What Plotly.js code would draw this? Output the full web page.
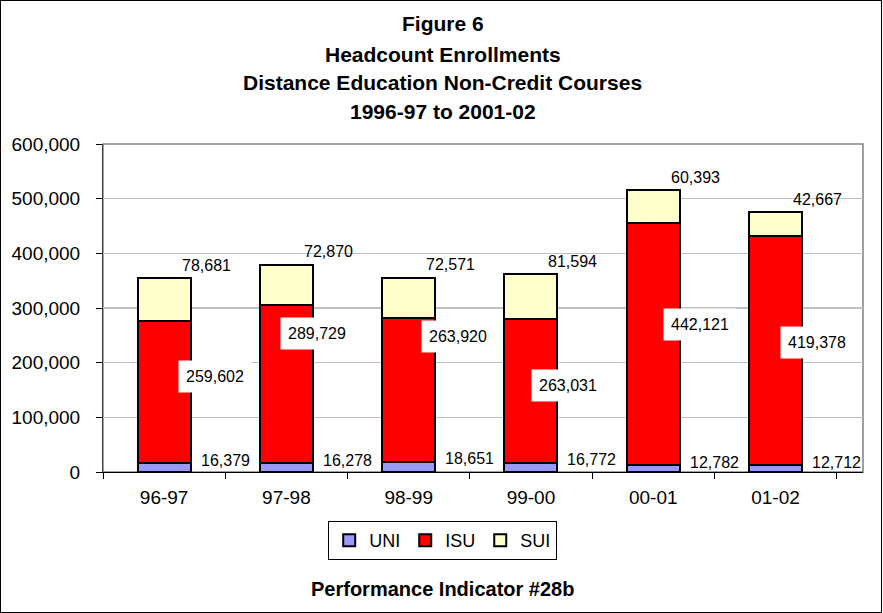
<!DOCTYPE html>
<html>
<head>
<meta charset="utf-8">
<script src="https://cdn.plot.ly/plotly-3.0.1.min.js"></script>
<style>
  body { margin: 0; background: #fff; }
  #graph { width: 880px; height: 611px; border: 1px solid #000; }
</style>
</head>
<body>
<div id="graph"></div>
<script>
// enrollment data
var years = ['96-97', '97-98', '98-99', '99-00', '00-01', '01-02'];
var uni = [16379, 16278, 18651, 16772, 12782, 12712];
var isu = [259602, 289729, 263920, 263031, 442121, 419378];
var sui = [78681, 72870, 72571, 81594, 60393, 42667];

// the ISU labels were dragged around by hand in the original (px tweaks)
var isuShiftX = [51, 31, 49, 37, 47, 41];
var isuShiftY = [16, 50, 53, 5, 20, 8];

var font = 'Arial, "Liberation Sans", sans-serif';

function fmt(v) {
    return v.toLocaleString('en-US');
}

// pixel row (from top of page) -> paper y
function py(p) {
    return (472 - p) / 328;
}

function drawGraph() {
    var edge = { color: '#000', width: 2 };

    var data = [
        { x: years, y: uni, type: 'bar', name: 'UNI', marker: { color: '#9999FF', line: edge } },
        { x: years, y: isu, type: 'bar', name: 'ISU', marker: { color: '#FF0000', line: edge } },
        { x: years, y: sui, type: 'bar', name: 'SUI', marker: { color: '#FFFFCC', line: edge } }
    ];

    var annotations = [];

    // title lines
    var titleLines = ['Figure 6', 'Headcount Enrollments', 'Distance Education Non-Credit Courses', '1996-97 to 2001-02'];
    var titleRows = [23, 54, 82, 112];
    titleLines.forEach(function (t, i) {
        annotations.push({
            text: '<b>' + t + '</b>', xref: 'paper', yref: 'paper',
            x: 0.447, y: py(titleRows[i]), yanchor: 'middle', showarrow: false,
            font: { family: font, size: 21, color: '#000' }
        });
    });
    annotations.push({
        text: '<b>Performance Indicator #28b</b>', xref: 'paper', yref: 'paper',
        x: 0.447, y: py(589), yanchor: 'middle', showarrow: false,
        font: { family: font, size: 20, color: '#000' }
    });

    // value labels
    years.forEach(function (yr, i) {
        annotations.push({
            x: yr, y: uni[i], text: fmt(uni[i]), showarrow: false,
            xshift: 61, yshift: 3, yanchor: 'middle',
            font: { family: font, size: 16, color: '#000' }
        });
        annotations.push({
            x: yr, y: uni[i] + isu[i] / 2, text: fmt(isu[i]), showarrow: false,
            xshift: isuShiftX[i], yshift: isuShiftY[i], yanchor: 'middle',
            bgcolor: '#fff', borderpad: 7,
            font: { family: font, size: 16, color: '#000' }
        });
        annotations.push({
            x: yr, y: uni[i] + isu[i] + sui[i], text: fmt(sui[i]), showarrow: false,
            xshift: 42, yshift: 13, yanchor: 'middle',
            font: { family: font, size: 16, color: '#000' }
        });
    });

    var layout = {
        barmode: 'stack',
        bargap: 0.566,
        width: 880,
        height: 611,
        margin: { l: 102, r: 18, t: 143, b: 140 },
        paper_bgcolor: '#fff',
        plot_bgcolor: '#fff',
        font: { family: font, size: 19, color: '#000' },
        showlegend: true,
        legend: {
            orientation: 'h', traceorder: 'normal',
            x: 0.447, xanchor: 'center', y: py(521), yanchor: 'top',
            bordercolor: '#000', borderwidth: 1,
            font: { family: font, size: 18, color: '#000' },
            itemwidth: 30
        },
        xaxis: {
            type: 'category',
            showgrid: false,
            ticks: 'outside', tickson: 'boundaries', ticklen: 6, tickcolor: '#000',
            showline: true, linecolor: '#000', linewidth: 1,
            ticklabelstandoff: 8,
            tickfont: { family: font, size: 19 }
        },
        yaxis: {
            range: [0, 600000], dtick: 100000, tickformat: ',d',
            showgrid: true, gridcolor: '#C0C0C0', gridwidth: 1.5,
            zeroline: false,
            ticks: 'outside', ticklen: 6, tickcolor: '#000',
            showline: true, linecolor: '#404040', linewidth: 1,
            ticklabelstandoff: 12,
            tickfont: { family: font, size: 19 }
        },
        shapes: [{
            type: 'rect', xref: 'paper', yref: 'paper', x0: 0, x1: 1, y0: 0, y1: 1,
            line: { color: '#808080', width: 1.5 }, layer: 'below'
        }],
        annotations: annotations
    };

    Plotly.newPlot('graph', data, layout, { staticPlot: true, displayModeBar: false });
}

drawGraph();
</script>
</body>
</html>
